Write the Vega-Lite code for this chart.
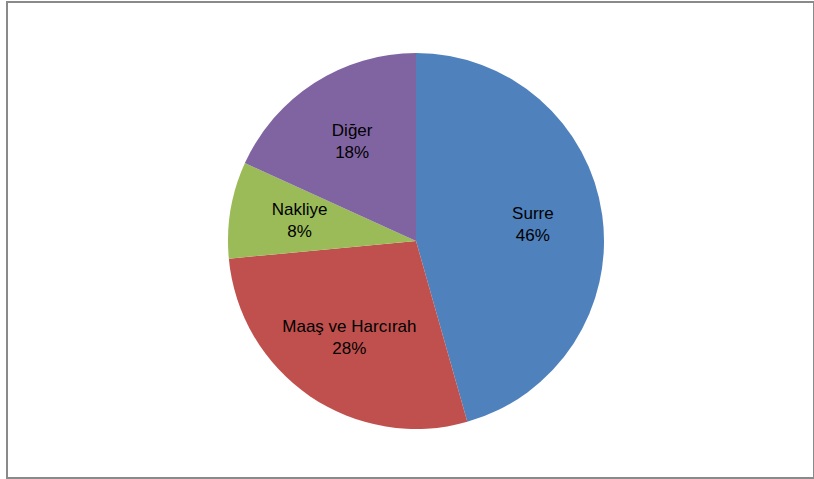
{
  "$schema": "https://vega.github.io/schema/vega-lite/v6.json",
  "width": 807,
  "height": 476,
  "autosize": {"type": "none"},
  "padding": {"left": 7, "top": 2, "right": 0, "bottom": 1},
  "background": "white",
  "config": {
    "view": {"stroke": null},
    "text": {"font": "Liberation Sans"}
  },
  "data": {
    "values": [
      {"kategori": "Surre", "pay": 45.6, "sira": 1, "etiket": "Surre\n46%"},
      {"kategori": "Maaş ve Harcırah", "pay": 27.9, "sira": 2, "etiket": "Maaş ve Harcırah\n28%"},
      {"kategori": "Nakliye", "pay": 8.3, "sira": 3, "etiket": "Nakliye\n8%"},
      {"kategori": "Diğer", "pay": 18.2, "sira": 4, "etiket": "Diğer\n18%"}
    ]
  },
  "layer": [
    {
      "mark": {"type": "rect", "fill": null, "stroke": "#8a8a8a", "strokeWidth": 2, "x2Offset": 6},
      "encoding": {}
    },
    {
      "mark": {"type": "arc", "outerRadius": 188, "xOffset": 5.5, "yOffset": 1},
      "encoding": {
        "theta": {"field": "pay", "type": "quantitative", "stack": true},
        "order": {"field": "sira", "type": "quantitative"},
        "color": {
          "field": "kategori",
          "type": "nominal",
          "scale": {
            "domain": ["Surre", "Maaş ve Harcırah", "Nakliye", "Diğer"],
            "range": ["#4f81bd", "#c0504d", "#9bbb59", "#8064a2"]
          },
          "legend": null
        }
      }
    },
    {
      "mark": {
        "type": "text",
        "radius": 118,
        "xOffset": 5.5,
        "yOffset": -10,
        "fontSize": 17,
        "lineHeight": 22,
        "lineBreak": "\n",
        "align": "center",
        "baseline": "middle",
        "fill": "#000000"
      },
      "encoding": {
        "theta": {"field": "pay", "type": "quantitative", "stack": true},
        "order": {"field": "sira", "type": "quantitative"},
        "text": {"field": "etiket", "type": "nominal"}
      }
    }
  ]
}
